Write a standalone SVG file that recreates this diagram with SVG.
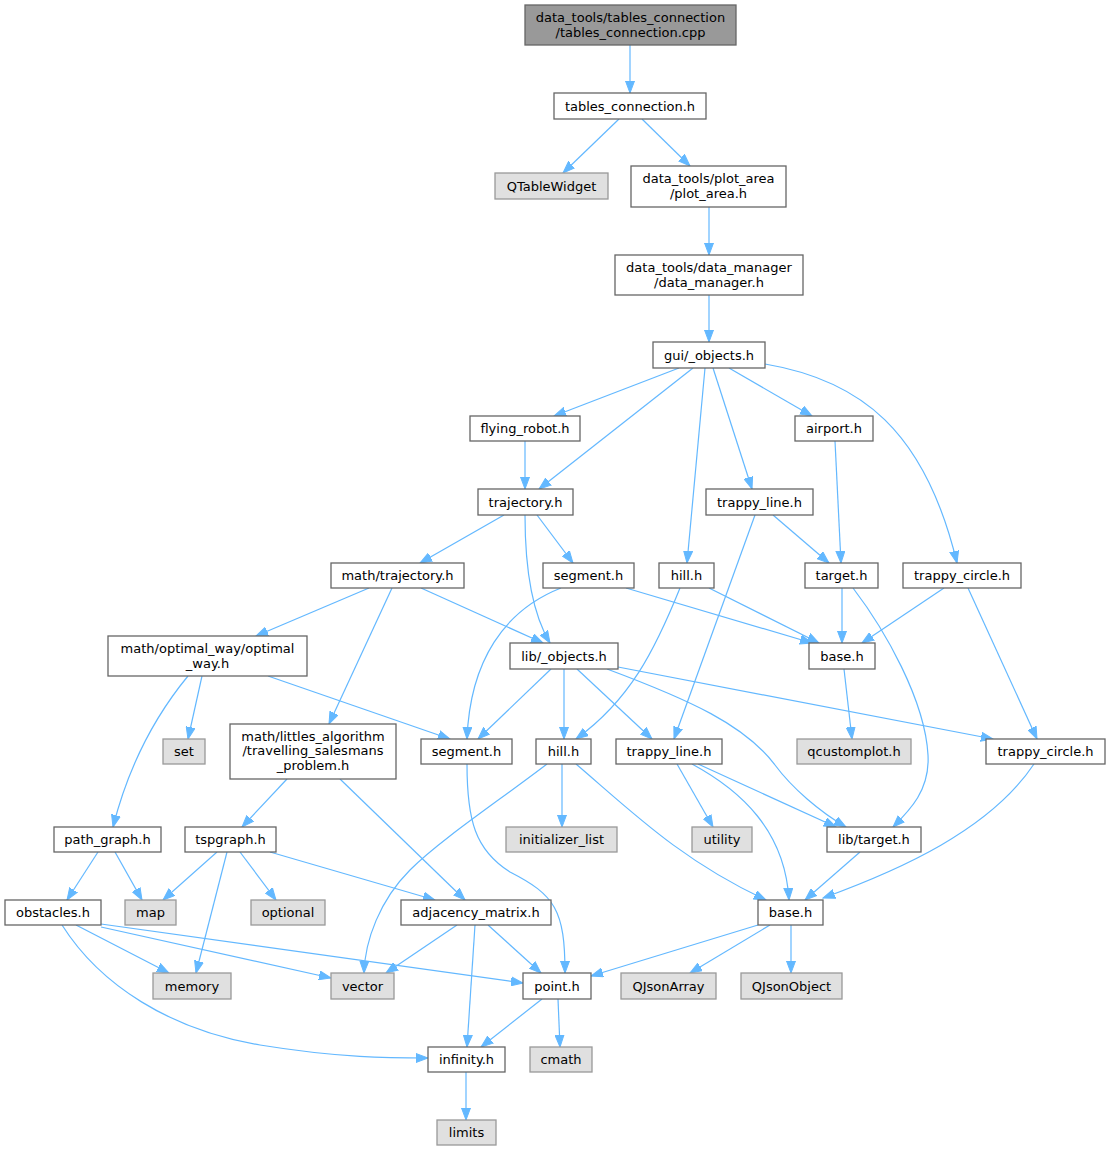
<svg xmlns="http://www.w3.org/2000/svg" width="1111" height="1151" viewBox="0 0 1111 1151">
<defs>
<style>
.n rect{fill:#ffffff;stroke:#666666;stroke-width:1.3}
.x rect{fill:#e0e0e0;stroke:#999999;stroke-width:1.3}
.r rect{fill:#999999;stroke:#666666;stroke-width:1.3}
text{font-family:"DejaVu Sans","Liberation Sans",sans-serif;font-size:13px;fill:#000000;text-anchor:middle}
#edges path{fill:none;stroke:#63b8ff;stroke-width:1.2;marker-end:url(#a)}
</style>
<marker id="a" markerWidth="13" markerHeight="10" refX="12" refY="5" orient="auto" markerUnits="userSpaceOnUse">
<path d="M0,0.5 L12,5 L0,9.5 z" fill="#63b8ff" stroke="#63b8ff" stroke-width="1"/>
</marker>
</defs>
<rect width="1111" height="1151" fill="#ffffff"/>
<g id="edges">
<path d="M630,45 V93"/>
<path d="M619,119 L563,173"/>
<path d="M642,119 L690,166"/>
<path d="M709,207 V255"/>
<path d="M709,295 V342"/>
<path d="M679,368 L554,416"/>
<path d="M693,368 L539,489"/>
<path d="M705,368 L687,563"/>
<path d="M713,368 L752,489"/>
<path d="M729,368 L812,416"/>
<path d="M765,364 C860,380 925,430 957,563"/>
<path d="M525,441 V489"/>
<path d="M835,441 L841,563"/>
<path d="M773,515 L829,563"/>
<path d="M755,515 L674,739"/>
<path d="M504,515 L420,563"/>
<path d="M537,515 L573,563"/>
<path d="M525,515 C525,560 530,610 550,643"/>
<path d="M369,588 L256,636"/>
<path d="M392,588 L329,724"/>
<path d="M421,588 L543,643"/>
<path d="M561,588 C505,610 470,660 467,739"/>
<path d="M626,588 L812,643"/>
<path d="M709,588 L819,643"/>
<path d="M680,588 C655,650 630,700 576,739"/>
<path d="M842,588 V643"/>
<path d="M853,588 C885,630 925,700 928,755 C930,790 910,810 893,827"/>
<path d="M944,588 L862,643"/>
<path d="M968,588 L1037,739"/>
<path d="M551,669 L478,739"/>
<path d="M564,669 V739"/>
<path d="M577,669 L652,739"/>
<path d="M607,669 C690,700 745,725 775,765 C792,788 820,812 846,827"/>
<path d="M618,667 L993,739"/>
<path d="M202,676 L188,739"/>
<path d="M268,676 L450,739"/>
<path d="M188,676 C160,710 130,760 113,827"/>
<path d="M287,779 L242,827"/>
<path d="M340,779 L465,900"/>
<path d="M467,764 C467,820 475,850 510,872 C555,895 565,910 565,973"/>
<path d="M562,764 V827"/>
<path d="M547,764 C500,800 440,840 410,870 C380,900 365,940 364,973"/>
<path d="M576,764 C630,810 680,860 766,900"/>
<path d="M677,764 L713,827"/>
<path d="M692,764 C740,790 785,830 789,900"/>
<path d="M698,764 L836,827"/>
<path d="M860,852 L805,900"/>
<path d="M1034,764 C990,830 900,870 823,898"/>
<path d="M98,852 L67,900"/>
<path d="M115,852 L142,900"/>
<path d="M217,852 L163,900"/>
<path d="M227,852 L196,973"/>
<path d="M240,852 L276,900"/>
<path d="M270,852 L435,900"/>
<path d="M76,925 L169,973"/>
<path d="M101,927 L331,978"/>
<path d="M101,924 L523,983"/>
<path d="M62,925 C100,985 170,1030 260,1045 C340,1058 390,1058 428,1058"/>
<path d="M457,925 L386,973"/>
<path d="M488,925 L541,973"/>
<path d="M475,925 L467,1047"/>
<path d="M542,999 L481,1047"/>
<path d="M558,999 L560,1047"/>
<path d="M758,925 L591,976"/>
<path d="M770,925 L690,973"/>
<path d="M791,925 V973"/>
<path d="M466,1072 V1120"/>
<path d="M844,669 L852,739"/>
</g>
<g id="n_cpp" class="r"><rect x="525" y="5" width="211" height="40"/><text x="630.5" y="21.5">data_tools/tables_connection</text><text x="630.5" y="36.5">/tables_connection.cpp</text></g>
<g id="n_tables_connection_h" class="n"><rect x="554" y="93" width="152" height="26"/><text x="630" y="110.5">tables_connection.h</text></g>
<g id="n_QTableWidget" class="x"><rect x="495" y="173" width="113" height="26"/><text x="551.5" y="190.5">QTableWidget</text></g>
<g id="n_plot_area_h" class="n"><rect x="631" y="166" width="155" height="41"/><text x="708.5" y="182.5">data_tools/plot_area</text><text x="708.5" y="197.5">/plot_area.h</text></g>
<g id="n_data_manager_h" class="n"><rect x="615" y="255" width="188" height="40"/><text x="709" y="271.5">data_tools/data_manager</text><text x="709" y="286.5">/data_manager.h</text></g>
<g id="n_gui_objects_h" class="n"><rect x="653" y="342" width="112" height="26"/><text x="709" y="359.5">gui/_objects.h</text></g>
<g id="n_flying_robot_h" class="n"><rect x="470" y="416" width="110" height="25"/><text x="525" y="433">flying_robot.h</text></g>
<g id="n_airport_h" class="n"><rect x="795" y="416" width="78" height="25"/><text x="834" y="433">airport.h</text></g>
<g id="n_trajectory_h" class="n"><rect x="478" y="489" width="95" height="26"/><text x="525.5" y="506.5">trajectory.h</text></g>
<g id="n_trappy_line_h_1" class="n"><rect x="706" y="489" width="107" height="26"/><text x="759.5" y="506.5">trappy_line.h</text></g>
<g id="n_math_trajectory_h" class="n"><rect x="331" y="563" width="133" height="25"/><text x="397.5" y="580">math/trajectory.h</text></g>
<g id="n_segment_h_1" class="n"><rect x="543" y="563" width="91" height="25"/><text x="588.5" y="580">segment.h</text></g>
<g id="n_hill_h_1" class="n"><rect x="659" y="563" width="55" height="25"/><text x="686.5" y="580">hill.h</text></g>
<g id="n_target_h" class="n"><rect x="805" y="563" width="73" height="25"/><text x="841.5" y="580">target.h</text></g>
<g id="n_trappy_circle_h_1" class="n"><rect x="903" y="563" width="118" height="25"/><text x="962" y="580">trappy_circle.h</text></g>
<g id="n_optimal_way_h" class="n"><rect x="108" y="636" width="199" height="40"/><text x="207.5" y="652.5">math/optimal_way/optimal</text><text x="207.5" y="667.5">_way.h</text></g>
<g id="n_lib_objects_h" class="n"><rect x="510" y="643" width="108" height="26"/><text x="564" y="660.5">lib/_objects.h</text></g>
<g id="n_base_h_1" class="n"><rect x="809" y="643" width="66" height="26"/><text x="842" y="660.5">base.h</text></g>
<g id="n_littles" class="n"><rect x="230" y="724" width="166" height="55"/><text x="313" y="740.5">math/littles_algorithm</text><text x="313" y="755">/travelling_salesmans</text><text x="313" y="769.5">_problem.h</text></g>
<g id="n_set" class="x"><rect x="163" y="739" width="42" height="25"/><text x="184" y="756">set</text></g>
<g id="n_segment_h_2" class="n"><rect x="421" y="739" width="91" height="25"/><text x="466.5" y="756">segment.h</text></g>
<g id="n_hill_h_2" class="n"><rect x="536" y="739" width="55" height="25"/><text x="563.5" y="756">hill.h</text></g>
<g id="n_trappy_line_h_2" class="n"><rect x="616" y="739" width="106" height="25"/><text x="669" y="756">trappy_line.h</text></g>
<g id="n_qcustomplot_h" class="x"><rect x="797" y="739" width="114" height="25"/><text x="854" y="756">qcustomplot.h</text></g>
<g id="n_trappy_circle_h_2" class="n"><rect x="986" y="739" width="119" height="25"/><text x="1045.5" y="756">trappy_circle.h</text></g>
<g id="n_path_graph_h" class="n"><rect x="54" y="827" width="107" height="25"/><text x="107.5" y="844">path_graph.h</text></g>
<g id="n_tspgraph_h" class="n"><rect x="185" y="827" width="91" height="25"/><text x="230.5" y="844">tspgraph.h</text></g>
<g id="n_initializer_list" class="x"><rect x="506" y="827" width="111" height="25"/><text x="561.5" y="844">initializer_list</text></g>
<g id="n_utility" class="x"><rect x="692" y="827" width="60" height="25"/><text x="722" y="844">utility</text></g>
<g id="n_lib_target_h" class="n"><rect x="827" y="827" width="94" height="25"/><text x="874" y="844">lib/target.h</text></g>
<g id="n_obstacles_h" class="n"><rect x="5" y="900" width="96" height="25"/><text x="53" y="917">obstacles.h</text></g>
<g id="n_map" class="x"><rect x="125" y="900" width="51" height="25"/><text x="150.5" y="917">map</text></g>
<g id="n_optional" class="x"><rect x="251" y="900" width="74" height="25"/><text x="288" y="917">optional</text></g>
<g id="n_adjacency_matrix_h" class="n"><rect x="401" y="900" width="150" height="25"/><text x="476" y="917">adjacency_matrix.h</text></g>
<g id="n_base_h_2" class="n"><rect x="758" y="900" width="65" height="25"/><text x="790.5" y="917">base.h</text></g>
<g id="n_memory" class="x"><rect x="153" y="973" width="78" height="26"/><text x="192" y="990.5">memory</text></g>
<g id="n_vector" class="x"><rect x="331" y="973" width="63" height="26"/><text x="362.5" y="990.5">vector</text></g>
<g id="n_point_h" class="n"><rect x="523" y="973" width="68" height="26"/><text x="557" y="990.5">point.h</text></g>
<g id="n_QJsonArray" class="x"><rect x="621" y="973" width="95" height="26"/><text x="668.5" y="990.5">QJsonArray</text></g>
<g id="n_QJsonObject" class="x"><rect x="741" y="973" width="101" height="26"/><text x="791.5" y="990.5">QJsonObject</text></g>
<g id="n_infinity_h" class="n"><rect x="428" y="1047" width="77" height="25"/><text x="466.5" y="1064">infinity.h</text></g>
<g id="n_cmath" class="x"><rect x="530" y="1047" width="62" height="25"/><text x="561" y="1064">cmath</text></g>
<g id="n_limits" class="x"><rect x="437" y="1120" width="59" height="25"/><text x="466.5" y="1137">limits</text></g>
</svg>
